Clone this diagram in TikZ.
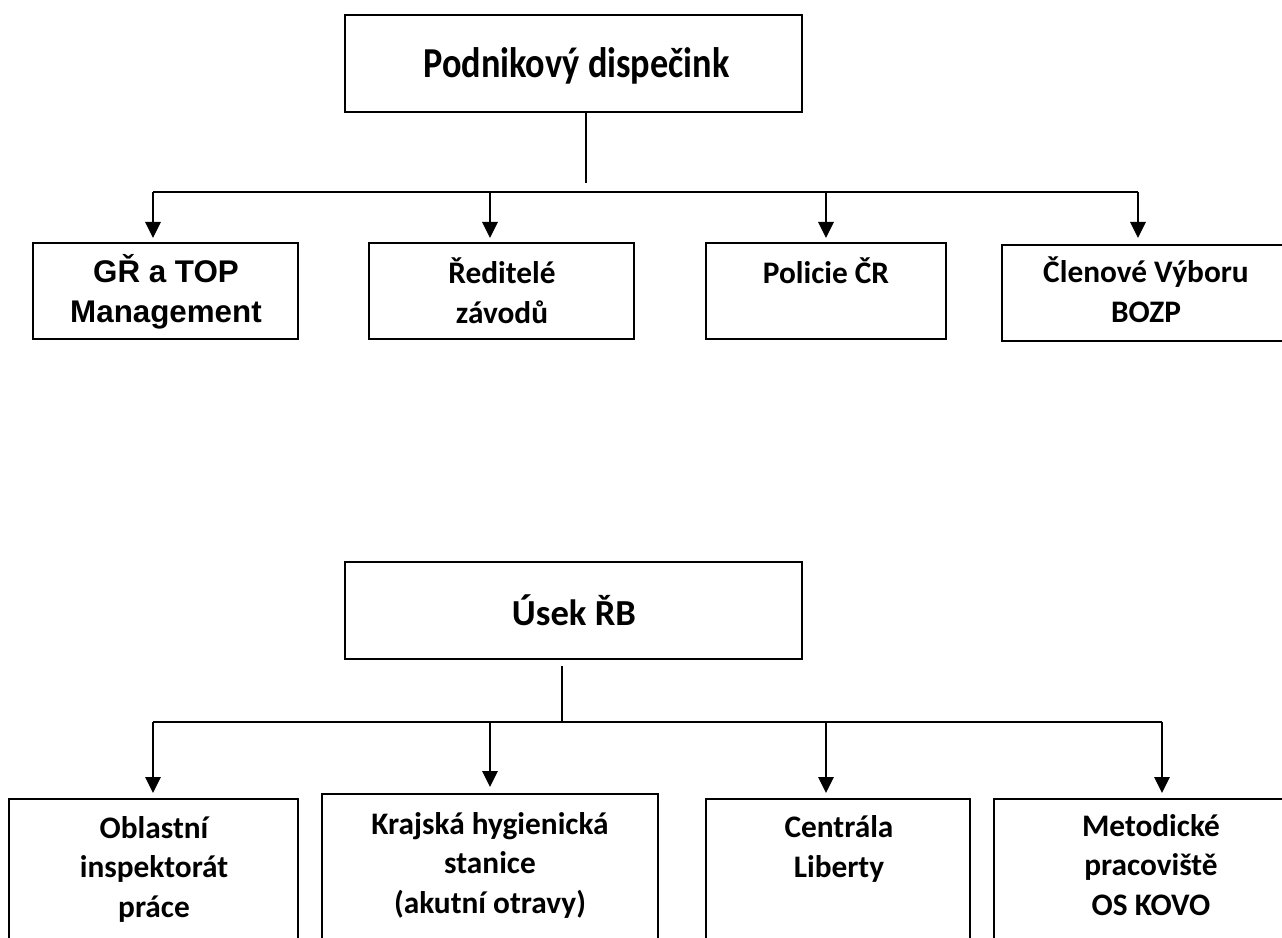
\documentclass[tikz,border=0pt]{standalone}
\usepackage{fontspec}
\setmainfont{Carlito}
\newfontfamily\arialfont{Liberation Sans}
\newfontfamily\narrowfont[FakeStretch=0.85]{Carlito}
\usetikzlibrary{arrows.meta}

\begin{document}
\begin{tikzpicture}[x=0.75pt, y=-0.75pt,
  box/.style={draw, line width=1.4pt, inner sep=0pt},
  ttl/.style={font=\fontsize{27.5}{33}\selectfont\bfseries, inner sep=0pt, anchor=base},
  disptxt/.style={ttl, font=\narrowfont\fontsize{32}{38}\selectfont\bfseries},
  txt/.style={font=\fontsize{23.5}{29.5}\selectfont\bfseries, align=center,
              inner sep=0pt, anchor=base},
  grtxt/.style={txt, font=\arialfont\fontsize{23.5}{29.3}\selectfont\bfseries},
  arr/.style={-{Triangle[length=12pt, width=11.5pt]}, line width=1.3pt},
  ln/.style={line width=1.3pt},
]
  \clip (0,0) rectangle (1282,938);

  % ── Podnikový dispečink ─────────
  \node[box, minimum width=342.75pt, minimum height=72.75pt] (disp) at (573.5,63.5) {};
  \node[disptxt] (dispT) at (576.5,78) {Podnikový dispečink};

  \node[box, minimum width=198.75pt, minimum height=72pt] (gr) at (165.5,291) {};
  \node[grtxt] (grT) at (166,322) {GŘ a TOP\\Management};
  \node[box, minimum width=198.75pt, minimum height=72pt] (red) at (501.5,291) {};
  \node[txt] (redT) at (502,323) {Ředitelé\\závodů};
  \node[box, minimum width=180pt, minimum height=72pt] (pol) at (826,291) {};
  \node[txt] (polT) at (826,283) {Policie ČR};
  \node[box, minimum width=216pt, minimum height=72pt] (bozp) at (1146,293) {};
  \node[txt] (bozpT) at (1146,322) {Členové Výboru\\BOZP};

  \coordinate (trunk) at (586,183);
  \coordinate (busL) at (153,192);
  \coordinate (busR) at (1138,192);
  \coordinate (grIn) at (153,238);
  \coordinate (redIn) at (490,238);
  \coordinate (polIn) at (826,238);
  \coordinate (bozpIn) at (1138,238);

  \draw[ln] (disp.south -| trunk) -- (trunk);
  \draw[ln] (busL) -- (busR);
  \draw[arr] (busL) -- (grIn);
  \draw[arr] (busL -| redIn) -- (redIn);
  \draw[arr] (busL -| polIn) -- (polIn);
  \draw[arr] (busR) -- (bozpIn);

  % ── Úsek ŘB ─────────────────────
  \node[box, minimum width=342.75pt, minimum height=72.75pt] (usek) at (573.5,610.5) {};
  \node[ttl] (usekT) at (574,625) {Úsek ŘB};

  \node[box, anchor=north, minimum width=216.75pt, minimum height=127.5pt] (oip) at (153.5,798) {};
  \node[txt] (oipT) at (154,917) {Oblastní\\inspektorát\\práce};
  \node[box, anchor=north, minimum width=252pt, minimum height=127.5pt] (khs) at (490,793) {};
  \node[txt] (khsT) at (490,913) {Krajská hygienická\\stanice\\(akutní otravy)};
  \node[box, anchor=north, minimum width=198pt, minimum height=127.5pt] (lib) at (838,798) {};
  \node[txt] (libT) at (839,877) {Centrála\\Liberty};
  \node[box, anchor=north, minimum width=235.5pt, minimum height=127.5pt] (kovo) at (1151,798) {};
  \node[txt] (kovoT) at (1151,915) {Metodické\\pracoviště\\OS KOVO};

  \coordinate (trunk2) at (562,666);
  \coordinate (bus2L) at (153,722);
  \coordinate (bus2R) at (1162,722);
  \coordinate (oipIn) at (153,793);
  \coordinate (khsIn) at (490,787);
  \coordinate (libIn) at (826,793);
  \coordinate (kovoIn) at (1162,793);

  \draw[ln] (trunk2) -- (trunk2 |- bus2L);
  \draw[ln] (bus2L) -- (bus2R);
  \draw[arr] (bus2L) -- (oipIn);
  \draw[arr] (bus2L -| khsIn) -- (khsIn);
  \draw[arr] (bus2L -| libIn) -- (libIn);
  \draw[arr] (bus2R) -- (kovoIn);
\end{tikzpicture}
\end{document}
